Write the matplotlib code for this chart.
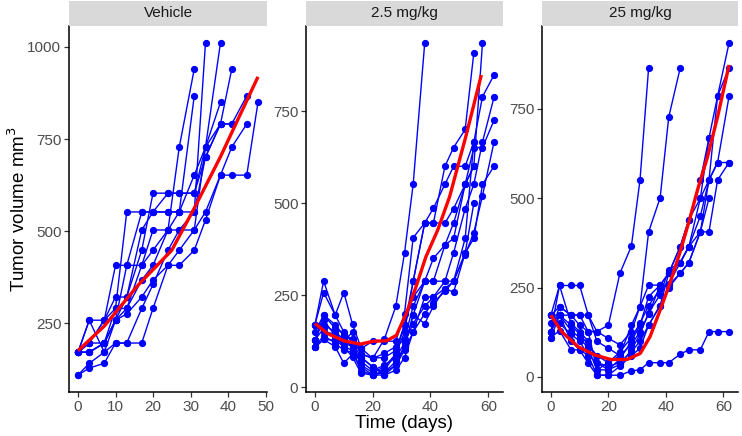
import matplotlib
matplotlib.use("Agg")
import matplotlib.pyplot as plt

plt.rcParams['font.family'] = ['Liberation Sans', 'DejaVu Sans']

# measurement days per group
veh_days = [0, 3, 7, 10, 13, 17, 20, 24, 27, 31, 34, 38, 41, 45, 48]
dose_days = [0, 3, 7, 10, 13, 16, 20, 24, 28, 31, 34, 38, 41, 45, 48, 52, 55, 58, 62]

# Vehicle: tumor volume per mouse (series stops when the mouse left the study)
veh_mice = [
    [171, 258, 258, 290, 552, 552, 552, 552, 552, 552, 1012],
    [171, 171, 196, 258, 321, 448, 603, 603, 603, 603, 728, 1012],
    [109, 141, 171, 258, 407, 407, 448, 503, 728, 940],
    [171, 196, 258, 321, 321, 503, 552, 552, 552, 867],
    [171, 171, 196, 290, 290, 367, 407, 503, 503, 552, 701, 791, 940],
    [171, 196, 196, 258, 275, 321, 367, 407, 448, 503, 728, 791, 791, 867],
    [171, 258, 171, 196, 196, 196, 290, 407, 407, 448, 530, 652, 652, 652, 850],
    [109, 128, 141, 196, 196, 290, 355, 448, 503, 503, 552, 652, 728, 791],
    [171, 171, 196, 258, 290, 407, 503, 503, 552, 652, 728, 850],
    [171, 196, 258, 407, 407, 552, 552, 603, 603, 603, 701, 791, 791],
]

# 2.5 mg/kg
low_mice = [
    [170, 257, 196, 257, 171, 106, 78, 130, 220, 364, 551, 935],
    [128, 182, 140, 110, 82, 38, 33, 46, 90, 150, 288, 446, 446, 600, 651, 700, 908],
    [170, 288, 196, 150, 120, 80, 55, 33, 60, 110, 196, 288, 288, 386, 446, 551, 600, 935],
    [108, 130, 110, 65, 90, 55, 33, 33, 46, 80, 150, 245, 245, 268, 288, 404, 666, 789, 848],
    [128, 196, 170, 140, 130, 90, 78, 92, 110, 130, 220, 288, 288, 288, 365, 485, 551, 666, 788],
    [170, 170, 150, 130, 110, 60, 40, 55, 90, 170, 288, 446, 446, 446, 485, 551, 651, 651, 725],
    [108, 130, 128, 110, 100, 82, 55, 40, 70, 110, 196, 173, 220, 268, 258, 365, 404, 551, 600],
    [150, 196, 160, 145, 130, 105, 125, 125, 125, 200, 406, 446, 486, 551, 600, 600, 666],
    [128, 160, 130, 120, 110, 70, 45, 60, 80, 120, 173, 220, 245, 288, 288, 365, 499],
    [170, 150, 145, 125, 150, 90, 80, 80, 100, 170, 245, 288, 350, 386, 404, 551, 600],
    [110, 140, 120, 100, 95, 45, 33, 40, 60, 100, 150, 200, 230, 260, 288, 360, 420, 520, 666],
]

# 25 mg/kg
high_mice = [
    [110, 130, 76, 76, 38, 5, 5, 5, 17, 20, 40, 40, 40, 64, 76, 76, 127, 127, 127],
    [173, 256, 256, 256, 173, 127, 145, 290, 366, 551, 865],
    [127, 197, 173, 173, 173, 100, 80, 60, 145, 197, 406, 501, 727, 865],
    [173, 173, 173, 173, 127, 20, 20, 50, 100, 145, 225, 257, 290, 365, 440, 551, 668, 786, 935],
    [127, 256, 150, 127, 100, 40, 20, 35, 75, 120, 180, 230, 300, 320, 365, 500, 551, 786, 865],
    [110, 173, 145, 120, 90, 60, 40, 60, 90, 127, 175, 257, 257, 290, 320, 406, 406, 551, 600],
    [173, 150, 120, 100, 60, 5, 5, 30, 60, 80, 145, 200, 290, 320, 365, 450, 551, 600, 786],
    [127, 173, 130, 110, 80, 20, 40, 70, 110, 150, 200, 245, 260, 320, 365, 406, 551, 600, 600],
    [173, 197, 173, 145, 127, 127, 108, 90, 127, 197, 257, 257, 290, 365, 440, 500, 668],
    [150, 173, 100, 76, 60, 40, 30, 40, 70, 100, 145, 200, 250, 290, 320, 406, 500],
]

# smoothed group trend (red line)
veh_fit_days = [0, 7, 16, 25, 31, 38, 42.4, 48]
veh_fit = [175, 242, 353, 448, 562, 702, 798, 919]
low_fit_days = [0, 4.3, 10, 15.7, 20.3, 24.8, 28.2, 31.6, 35, 38.4, 42.5, 46.6, 52.2, 57.6]
low_fit = [173, 146, 126, 117, 125, 126, 141, 200, 273, 354, 427, 517, 680, 848]
high_fit_days = [0, 3.7, 9.4, 15.1, 20.8, 26.5, 31.1, 34.5, 38, 41.4, 44.8, 48.2, 51, 54.5, 58, 62]
high_fit = [173, 127, 85, 62, 49, 49, 66, 113, 187, 262, 346, 439, 523, 616, 728, 873]

panels = [
    ("Vehicle", veh_days, veh_mice, veh_fit_days, veh_fit,
     (-2.4, 50.4), (63, 1057), [0, 10, 20, 30, 40, 50], [250, 500, 750, 1000]),
    ("2.5 mg/kg", dose_days, low_mice, low_fit_days, low_fit,
     (-3.1, 65.1), (-13, 981), [0, 20, 40, 60], [0, 250, 500, 750]),
    ("25 mg/kg", dose_days, high_mice, high_fit_days, high_fit,
     (-3.1, 65.1), (-42, 982), [0, 20, 40, 60], [0, 250, 500, 750]),
]

W, H = 742, 436
fig = plt.figure(figsize=(W / 100, H / 100), dpi=100)
lefts = [69, 306, 542]
widths = [198, 197, 196]
ax_top, ax_bot = 26, 392
strip_top = 1

for (title, days, mice, fdays, fvals, xl, yl, xt, yt), l, w in zip(panels, lefts, widths):
    ax = fig.add_axes([l / W, 1 - ax_bot / H, w / W, (ax_bot - ax_top) / H])
    for vals in mice:
        ax.plot(days[:len(vals)], vals, color='#0000FF', lw=1.0, marker='o',
                markersize=4.2, zorder=2)
    ax.plot(fdays, fvals, color='#FF0000', lw=2.4, zorder=3, solid_capstyle='butt')
    ax.set_xlim(*xl)
    ax.set_ylim(*yl)
    ax.set_xticks(xt)
    ax.set_yticks(yt)
    for s in ['top', 'right']:
        ax.spines[s].set_visible(False)
    for s in ['left', 'bottom']:
        ax.spines[s].set_linewidth(1.1)
    ax.tick_params(labelsize=11, labelcolor='#4D4D4D', color='#333333',
                   length=3.5, width=0.9, pad=2)

    # facet strip
    sax = fig.add_axes([l / W, 1 - ax_top / H, w / W, (ax_top - strip_top) / H])
    sax.set_facecolor('#D9D9D9')
    sax.set_xticks([])
    sax.set_yticks([])
    for s in sax.spines.values():
        s.set_visible(False)
    sax.text(0.5, 0.5, title, ha='center', va='center', fontsize=11,
             color='#1A1A1A', transform=sax.transAxes)

fig.text(404 / W, 1 - 423 / H, "Time (days)", ha='center', va='center', fontsize=13.5)
fig.text(18 / W, 1 - 209 / H, "Tumor volume mm$^3$", ha='center', va='center',
         rotation=90, fontsize=13.5)

fig.savefig("out.png", dpi=100)
